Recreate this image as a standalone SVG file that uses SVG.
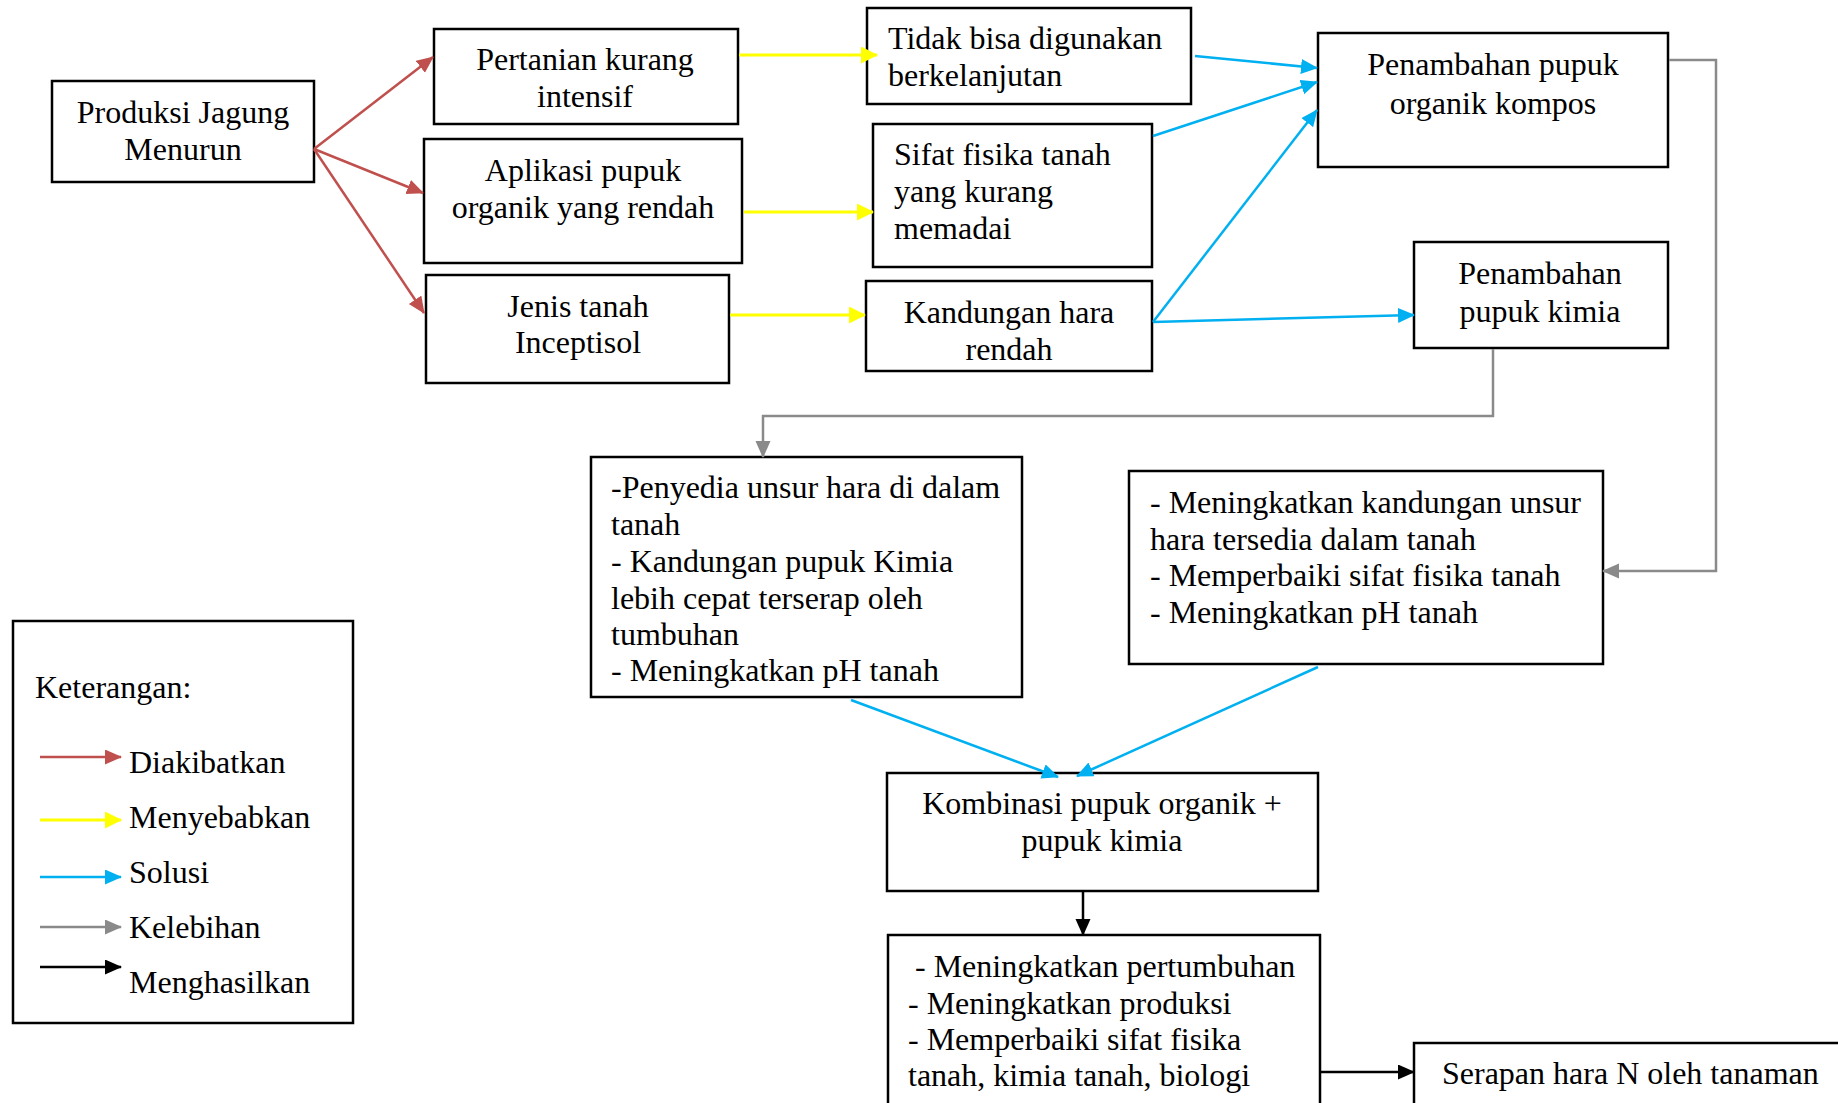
<svg xmlns="http://www.w3.org/2000/svg" width="1838" height="1103" viewBox="0 0 1838 1103">
<style>
.box{fill:#fff;stroke:#000;stroke-width:2.5}
.t{font-family:"Liberation Serif","Times New Roman",serif;font-size:32px;fill:#000}
.c{text-anchor:middle}
.red{stroke:#C0504D;stroke-width:2.5;fill:none}
.yel{stroke:#FFFF00;stroke-width:3;fill:none}
.blu{stroke:#00B0F0;stroke-width:2.5;fill:none}
.gry{stroke:#8A8A8A;stroke-width:2.5;fill:none}
.blk{stroke:#000;stroke-width:2.5;fill:none}
</style>
<defs>
<marker id="aR" markerUnits="userSpaceOnUse" markerWidth="18" markerHeight="16" refX="16" refY="7.5" orient="auto"><path d="M0,0 L17,7.5 L0,15 z" fill="#C0504D"/></marker>
<marker id="aY" markerUnits="userSpaceOnUse" markerWidth="18" markerHeight="18" refX="16" refY="8.5" orient="auto"><path d="M0,0 L17,8.5 L0,17 z" fill="#FFFF00"/></marker>
<marker id="aB" markerUnits="userSpaceOnUse" markerWidth="18" markerHeight="16" refX="16" refY="7.5" orient="auto"><path d="M0,0 L17,7.5 L0,15 z" fill="#00B0F0"/></marker>
<marker id="aG" markerUnits="userSpaceOnUse" markerWidth="18" markerHeight="16" refX="16" refY="7.5" orient="auto"><path d="M0,0 L17,7.5 L0,15 z" fill="#8A8A8A"/></marker>
<marker id="aK" markerUnits="userSpaceOnUse" markerWidth="18" markerHeight="16" refX="16" refY="7.5" orient="auto"><path d="M0,0 L17,7.5 L0,15 z" fill="#000"/></marker>
</defs>
<rect width="1838" height="1103" fill="#fff"/>

<g id="produksi"><rect class="box" x="52" y="81" width="262" height="101"/>
<text class="t c" x="183" y="123">Produksi Jagung</text><text class="t c" x="183" y="160">Menurun</text></g>

<g id="pertanian"><rect class="box" x="434" y="29" width="304" height="95"/>
<text class="t c" x="585" y="70">Pertanian kurang</text><text class="t c" x="585" y="107">intensif</text></g>

<g id="aplikasi"><rect class="box" x="424" y="139" width="318" height="124"/>
<text class="t c" x="583" y="181">Aplikasi pupuk</text><text class="t c" x="583" y="218">organik yang rendah</text></g>

<g id="jenis"><rect class="box" x="426" y="275" width="303" height="108"/>
<text class="t c" x="578" y="317">Jenis tanah</text><text class="t c" x="578" y="353">Inceptisol</text></g>

<g id="tidak"><rect class="box" x="867" y="8" width="324" height="96"/>
<text class="t" x="888" y="49">Tidak bisa digunakan</text><text class="t" x="888" y="86">berkelanjutan</text></g>

<g id="sifat"><rect class="box" x="873" y="124" width="279" height="143"/>
<text class="t" x="894" y="165">Sifat fisika tanah</text><text class="t" x="894" y="202">yang kurang</text><text class="t" x="894" y="239">memadai</text></g>

<g id="kandungan"><rect class="box" x="866" y="281" width="286" height="90"/>
<text class="t c" x="1009" y="323">Kandungan hara</text><text class="t c" x="1009" y="360">rendah</text></g>

<g id="kompos"><rect class="box" x="1318" y="33" width="350" height="134"/>
<text class="t c" x="1493" y="75">Penambahan pupuk</text><text class="t c" x="1493" y="114">organik kompos</text></g>

<g id="kimia"><rect class="box" x="1414" y="242" width="254" height="106"/>
<text class="t c" x="1540" y="284">Penambahan</text><text class="t c" x="1540" y="322">pupuk kimia</text></g>

<g id="penyedia"><rect class="box" x="591" y="457" width="431" height="240"/>
<text class="t" x="611" y="498">-Penyedia unsur hara di dalam</text>
<text class="t" x="611" y="535">tanah</text>
<text class="t" x="611" y="572">- Kandungan pupuk Kimia</text>
<text class="t" x="611" y="609">lebih cepat terserap oleh</text>
<text class="t" x="611" y="645">tumbuhan</text>
<text class="t" x="611" y="681">- Meningkatkan pH tanah</text></g>

<g id="kelebihan-organik"><rect class="box" x="1129" y="471" width="474" height="193"/>
<text class="t" x="1150" y="513">- Meningkatkan kandungan unsur</text>
<text class="t" x="1150" y="550">hara tersedia dalam tanah</text>
<text class="t" x="1150" y="586">- Memperbaiki sifat fisika tanah</text>
<text class="t" x="1150" y="623">- Meningkatkan pH tanah</text></g>

<g id="kombinasi"><rect class="box" x="887" y="773" width="431" height="118"/>
<text class="t c" x="1102" y="814">Kombinasi pupuk organik +</text><text class="t c" x="1102" y="851">pupuk kimia</text></g>

<g id="hasil"><rect class="box" x="888" y="935" width="432" height="200"/>
<text class="t" x="915" y="977">- Meningkatkan pertumbuhan</text>
<text class="t" x="908" y="1014">- Meningkatkan produksi</text>
<text class="t" x="908" y="1050">- Memperbaiki sifat fisika</text>
<text class="t" x="908" y="1086">tanah, kimia tanah, biologi</text></g>

<g id="serapan"><rect class="box" x="1414" y="1043" width="440" height="100"/>
<text class="t" x="1442" y="1084">Serapan hara N oleh tanaman</text></g>

<g id="legend"><rect class="box" x="13" y="621" width="340" height="402"/>
<text class="t" x="35" y="698">Keterangan:</text>
<line class="red" x1="40" y1="757" x2="121" y2="757" marker-end="url(#aR)"/>
<text class="t" x="129" y="773">Diakibatkan</text>
<line class="yel" x1="40" y1="820" x2="121" y2="820" marker-end="url(#aY)"/>
<text class="t" x="129" y="828">Menyebabkan</text>
<line class="blu" x1="40" y1="877" x2="121" y2="877" marker-end="url(#aB)"/>
<text class="t" x="129" y="883">Solusi</text>
<line class="gry" x1="40" y1="927" x2="121" y2="927" marker-end="url(#aG)"/>
<text class="t" x="129" y="938">Kelebihan</text>
<line class="blk" x1="40" y1="967" x2="121" y2="967" stroke-width="3" marker-end="url(#aK)"/>
<text class="t" x="129" y="993">Menghasilkan</text></g>

<g id="connectors">
<line class="red" x1="314" y1="149" x2="433" y2="57" marker-end="url(#aR)"/>
<line class="red" x1="314" y1="149" x2="423" y2="193" marker-end="url(#aR)"/>
<line class="red" x1="314" y1="149" x2="424" y2="313" marker-end="url(#aR)"/>
<line class="yel" x1="739" y1="55" x2="877" y2="55" marker-end="url(#aY)"/>
<line class="yel" x1="744" y1="212" x2="873" y2="212" marker-end="url(#aY)"/>
<line class="yel" x1="730" y1="315" x2="865" y2="315" marker-end="url(#aY)"/>
<line class="blu" x1="1195" y1="56" x2="1317" y2="68" marker-end="url(#aB)"/>
<line class="blu" x1="1153" y1="136" x2="1317" y2="82" marker-end="url(#aB)"/>
<line class="blu" x1="1153" y1="322" x2="1317" y2="110" marker-end="url(#aB)"/>
<line class="blu" x1="1153" y1="322" x2="1414" y2="315" marker-end="url(#aB)"/>
<line class="blu" x1="851" y1="700" x2="1058" y2="777" marker-end="url(#aB)"/>
<line class="blu" x1="1318" y1="667" x2="1077" y2="776" marker-end="url(#aB)"/>
<polyline class="gry" points="1493,349 1493,416 763,416 763,457" marker-end="url(#aG)"/>
<polyline class="gry" points="1669,60 1716,60 1716,571 1603,571" marker-end="url(#aG)"/>
<line class="blk" x1="1083" y1="892" x2="1083" y2="935" marker-end="url(#aK)"/>
<line class="blk" x1="1321" y1="1072" x2="1414" y2="1072" stroke-width="3" marker-end="url(#aK)"/>
</g>
</svg>
